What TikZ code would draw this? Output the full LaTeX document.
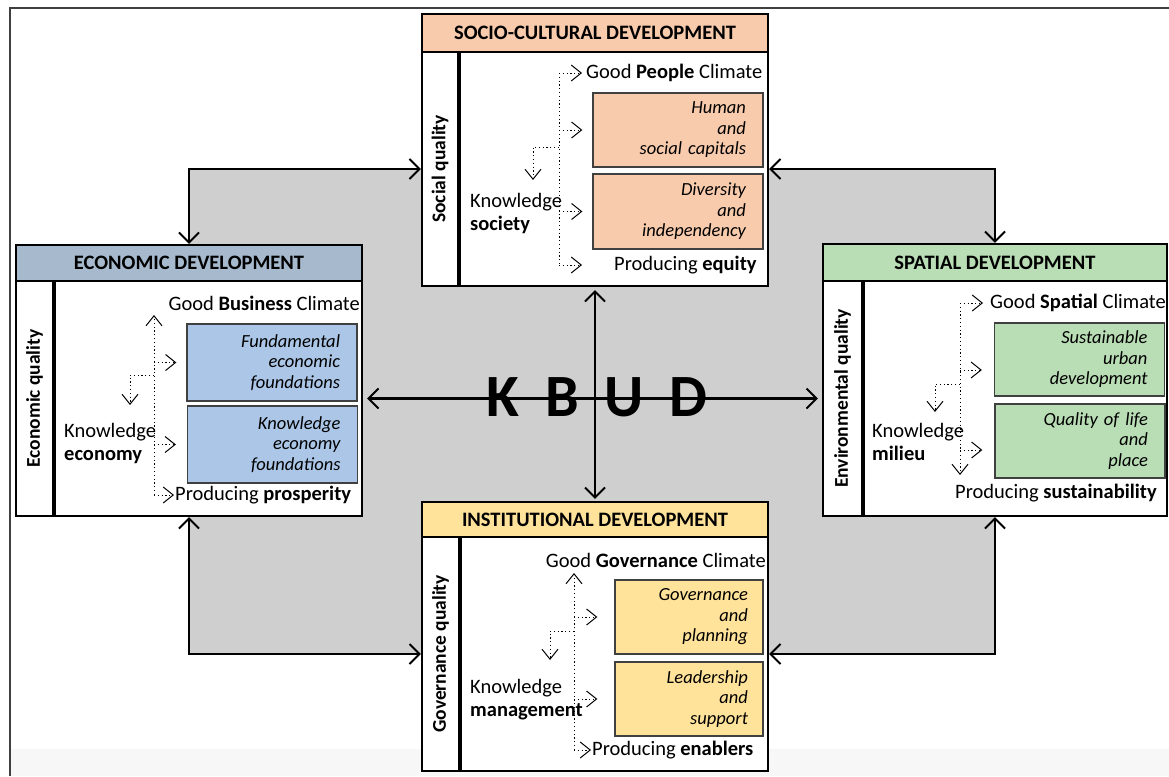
\documentclass[tikz,border=0pt]{standalone}
\usepackage{fontspec}
\setmainfont{Carlito}
\usetikzlibrary{arrows.meta,backgrounds}

\definecolor{socfill}{HTML}{F8CBAD}
\definecolor{ecohead}{HTML}{A6B9CD}
\definecolor{ecofill}{HTML}{ABC6E6}
\definecolor{spafill}{HTML}{B9DDB4}
\definecolor{insfill}{HTML}{FFE39B}
\definecolor{kbudgray}{HTML}{CFCFCF}

\tikzset{
  head/.style={draw, line width=2.2pt, inner sep=0pt, font=\fontsize{20.5}{24}\selectfont\bfseries},
  side/.style={draw, line width=2.2pt, fill=white, inner sep=0pt},
  sidetxt/.style={inner sep=0pt, font=\fontsize{19.5}{22}\selectfont\bfseries},
  body/.style={draw, line width=2.2pt, fill=white, inner sep=0pt},
  fact/.style={draw=black!75, line width=1.3pt, inner xsep=17pt, inner ysep=0pt, text width=136pt,
    align=right, font=\fontsize{18.5}{20.5}\selectfont\itshape},
  txt/.style={inner sep=1pt, font=\fontsize{20.5}{23}\selectfont},
  stem/.style={line width=1pt, dash pattern=on 1.2pt off 2.6pt},
  flow/.style={stem, -{Straight Barb[length=10pt,width=16pt,line width=1pt]}},
  link/.style={line width=2.5pt, {Straight Barb[length=10pt,width=20pt,line width=2pt]}-{Straight Barb[length=10pt,width=20pt,line width=2pt]}},
}

\begin{document}
\begin{tikzpicture}[x=1pt,y=-1pt]
\useasboundingbox (0,0) rectangle (1169,776);

% socio-cultural panel
\node[head, fill=socfill, minimum width=346pt, minimum height=38pt] (hsoc) at (595,33) {SOCIO-CULTURAL DEVELOPMENT};
\node[side, minimum width=36pt, minimum height=234pt] (ssoc) at (440,169) {};
\node[body, minimum width=310pt, minimum height=234pt] (bsoc) at (613,169) {};
\draw[line width=4pt] (ssoc.north east) -- (ssoc.south east);
\node[sidetxt, rotate=90] (qsoc) at (ssoc.center) {Social quality};
\node[txt, anchor=west] (gsoc) at (585,73) {Good \textbf{People} Climate};
\node[fact, fill=socfill, minimum height=74pt] (fsoc1) at (678,130) {Human\\and\\social capitals};
\node[fact, fill=socfill, minimum height=75pt] (fsoc2) at (678,211.5) {Diversity\\and\\independency};
\node[txt, anchor=west] (psoc) at (613,265) {Producing \textbf{equity}};
\node[txt, anchor=west, align=left] (ksoc) at (469,213) {Knowledge\\\textbf{society}};
\coordinate (s0) at (559,73);
\coordinate (s1) at (559,265);
\coordinate (s2) at (533,180);
\draw[stem] (s0) -- (s1);
\draw[flow, shorten >=3pt] (s0) -- (gsoc.west);
\draw[flow, shorten >=10pt] (s0 |- fsoc1) -- (fsoc1.west);
\draw[flow, shorten >=10pt] (s0 |- fsoc2) -- (fsoc2.west);
\draw[flow, shorten >=31pt] (s1) -- (psoc.west);
\draw[flow] (s0 |- 0,147) -| (s2);

% economic panel
\node[head, fill=ecohead, minimum width=346pt, minimum height=36pt] (heco) at (189,263) {ECONOMIC DEVELOPMENT};
\node[side, minimum width=37pt, minimum height=235pt] (seco) at (34.5,398.5) {};
\node[body, minimum width=309pt, minimum height=235pt] (beco) at (207.5,398.5) {};
\draw[line width=4pt] (seco.north east) -- (seco.south east);
\node[sidetxt, rotate=90] (qeco) at (seco.center) {Economic quality};
\node[txt, anchor=east] (geco) at (361,303) {Good \textbf{Business} Climate};
\node[fact, fill=ecofill, minimum height=77pt] (feco1) at (272,362.5) {Fundamental\\economic\\foundations};
\node[fact, fill=ecofill, minimum height=77pt] (feco2) at (272.5,444.5) {Knowledge\\economy\\foundations};
\node[txt, anchor=west] (peco) at (174,495) {Producing \textbf{prosperity}};
\node[txt, anchor=west, align=left] (keco) at (63,443.5) {Knowledge\\\textbf{economy}};
\coordinate (e0) at (154,315);
\coordinate (e1) at (154,495);
\coordinate (e2) at (130,405);
\draw[flow] (e1) -- (e0);
\draw[flow, shorten >=10pt] (e0 |- feco1) -- (feco1.west);
\draw[flow, shorten >=11pt] (e0 |- feco2) -- (feco2.west);
\draw[flow] (e1) -- (peco.west);
\draw[flow] (e0 |- 0,375) -| (e2);

% spatial panel
\node[head, fill=spafill, minimum width=344pt, minimum height=37pt] (hspa) at (995,262.5) {SPATIAL DEVELOPMENT};
\node[side, minimum width=39pt, minimum height=235pt] (sspa) at (842.5,398.5) {};
\node[body, minimum width=305pt, minimum height=235pt] (bspa) at (1014.5,398.5) {};
\draw[line width=4pt] (sspa.north east) -- (sspa.south east);
\node[sidetxt, rotate=90] (qspa) at (sspa.center) {Environmental quality};
\node[txt, anchor=west] (gspa) at (989,303) {Good \textbf{Spatial} Climate};
\node[fact, fill=spafill, minimum height=73pt] (fspa1) at (1079.5,359.5) {Sustainable\\urban\\development};
\node[fact, fill=spafill, minimum height=74pt] (fspa2) at (1080,441) {Quality of life\\and\\place};
\node[txt, anchor=west] (pspa) at (954,493) {Producing \textbf{sustainability}};
\node[txt, anchor=west, align=left] (kspa) at (871,442) {Knowledge\\\textbf{milieu}};
\coordinate (p0) at (960,303);
\coordinate (p1) at (960,475);
\coordinate (p2) at (935,412);
\draw[flow] (p0) -- (p1);
\draw[flow, shorten >=6pt] (p0) -- (gspa.west);
\draw[flow, shorten >=12pt] (p0 |- 0,370) -- (fspa1.west |- 0,370);
\draw[flow, shorten >=12pt] (p0 |- 0,450) -- (fspa2.west |- 0,450);
\draw[flow] (p0 |- 0,384) -| (p2);

% institutional panel
\node[head, fill=insfill, minimum width=346pt, minimum height=35pt] (hins) at (595,519.5) {INSTITUTIONAL DEVELOPMENT};
\node[side, minimum width=37pt, minimum height=234pt] (sins) at (440.5,654) {};
\node[body, minimum width=309pt, minimum height=234pt] (bins) at (613.5,654) {};
\draw[line width=4pt] (sins.north east) -- (sins.south east);
\node[sidetxt, rotate=90] (qins) at (sins.center) {Governance quality};
\node[txt, anchor=east] (gins) at (767,560) {Good \textbf{Governance} Climate};
\node[fact, fill=insfill, text width=118pt, inner xsep=15pt, minimum height=74pt] (fins1) at (689,617) {Governance\\and\\planning};
\node[fact, fill=insfill, text width=118pt, inner xsep=15pt, minimum height=74pt] (fins2) at (689,699) {Leadership\\and\\support};
\node[txt, anchor=west] (pins) at (591,750) {Producing \textbf{enablers}};
\node[txt, anchor=west, align=left] (kins) at (469,700) {Knowledge\\\textbf{management}};
\coordinate (i0) at (574,573);
\coordinate (i1) at (574,750);
\coordinate (i2) at (550,660);
\draw[flow] (i1) -- (i0);
\draw[flow, shorten >=17pt] (i0 |- fins1) -- (fins1.west);
\draw[flow, shorten >=17pt] (i0 |- fins2) -- (fins2.west);
\draw[flow] (i1) -- (pins.west);
\draw[flow] (i0 |- 0,631) -| (i2);

% links between the panels
\draw[link] (heco.north) |- (ssoc.west);
\draw[link] (bsoc.east) -| (hspa.north);
\draw[link] (heco.center |- beco.south) |- (sins.west);
\draw[link] (hspa.center |- bspa.south) |- (bins.east);
\draw[link, shorten <=3pt, shorten >=2pt] (hsoc.center |- bsoc.south) -- (hins.north);
\draw[link, shorten <=4pt, shorten >=4pt] (beco.east) -- (sspa.west);
\node[font=\fontsize{60}{60}\selectfont\bfseries, inner sep=0pt] (kbud) at (597,397) {{\spaceskip=26pt K B U D}};

\begin{scope}[on background layer]
\fill[white] (0,0) rectangle (1169,776);
\fill[black!3] (11,749) rectangle (1169,776);
\draw[black!75, line width=1.3pt] (10,776) -- (10,8) -- (1169,8);
\fill[kbudgray] (heco.center |- ssoc.west) rectangle (hspa.center |- bins.east);
\end{scope}
\end{tikzpicture}
\end{document}
